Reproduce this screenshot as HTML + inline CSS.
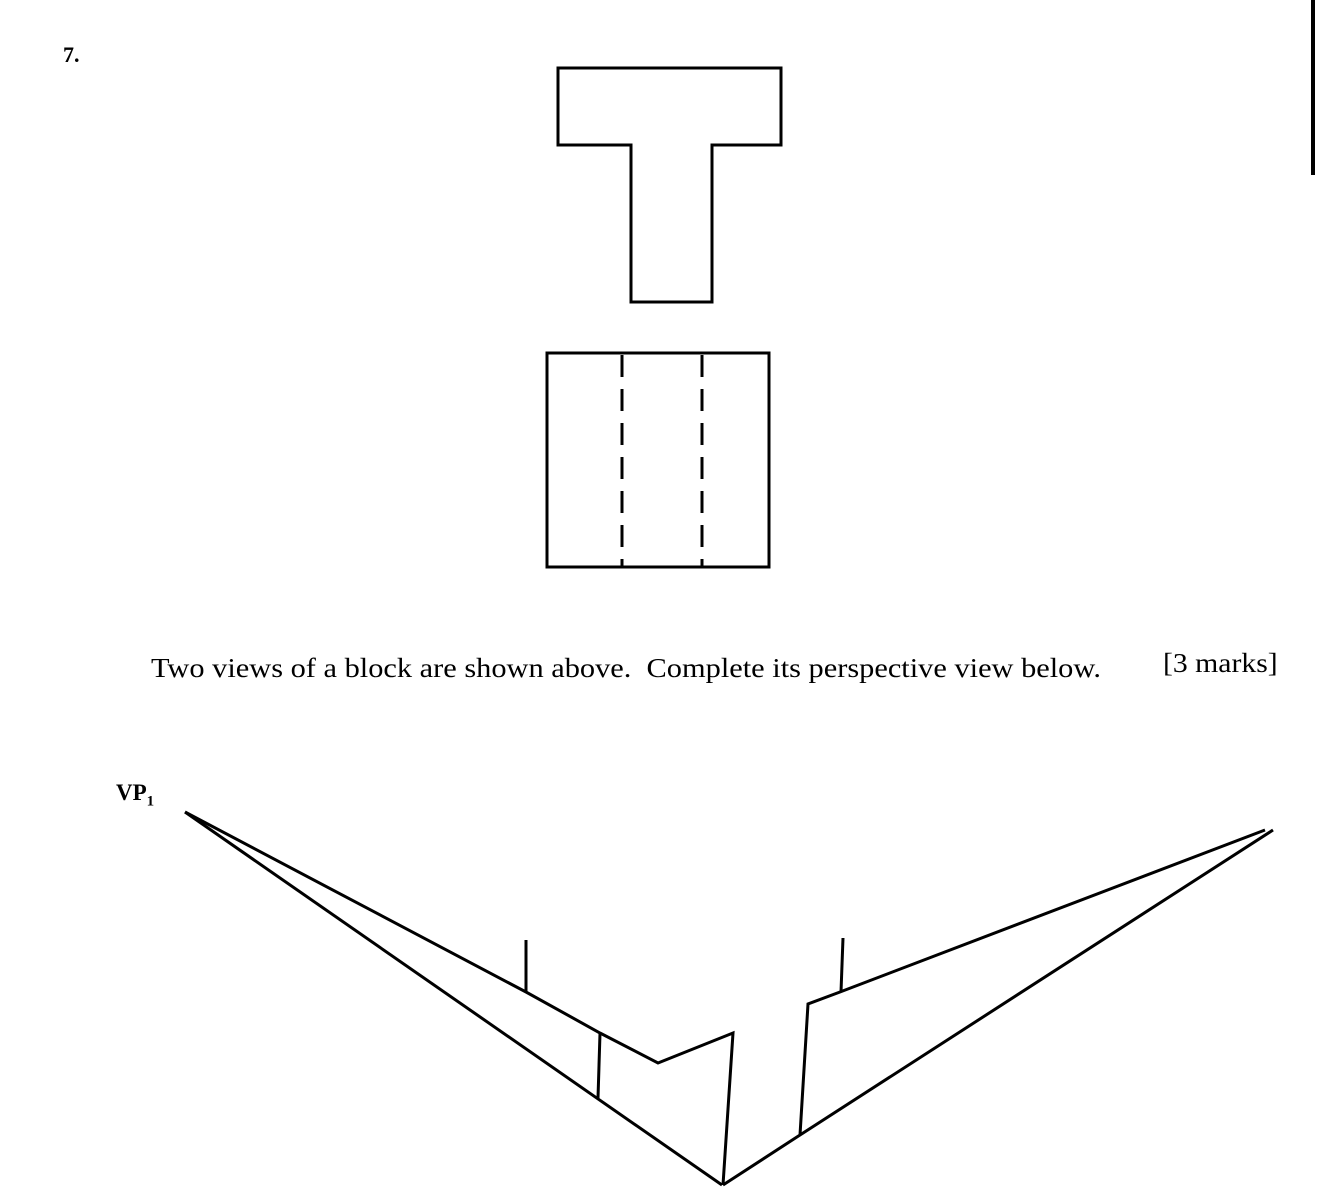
<!DOCTYPE html>
<html><head><style>
body{margin:0;background:#fff;width:1317px;height:1198px;overflow:hidden;position:relative;font-family:"Liberation Serif",serif;}
.t{position:absolute;color:#000;white-space:nowrap;transform-origin:0 0;}
</style></head><body>
<div class="t" style="left:63px;top:42px;font-size:22px;font-weight:bold;">7.</div>
<div class="t" style="left:151px;top:653px;font-size:27px;transform:scaleX(1.125);">Two views of a block are shown above.&nbsp; Complete its perspective view below.</div>
<div class="t" style="left:1163px;top:648px;font-size:27px;transform:scaleX(1.1);">[3 marks]</div>
<div class="t" style="left:116px;top:780px;font-size:23px;font-weight:bold;">VP<sub style="font-size:15px">1</sub></div>
<svg width="1317" height="1198" style="position:absolute;left:0;top:0" fill="none" stroke="#000" stroke-width="3">
<path d="M558 68H781V145H712V302H631V145H558Z"/>
<rect x="547" y="353" width="222" height="214"/>
<line x1="622" y1="355" x2="622" y2="567" stroke-dasharray="22,12"/>
<line x1="702" y1="355" x2="702" y2="567" stroke-dasharray="22,12"/>
<line x1="1313" y1="0" x2="1313" y2="175" stroke-width="4"/>
<polyline points="185,812 722,1185"/>
<polyline points="185,812 526,992 600,1033 658,1063 733,1033 723,1185"/>
<line x1="526" y1="940" x2="526" y2="992"/>
<line x1="600" y1="1033" x2="598" y2="1098"/>
<polyline points="723,1185 800,1135 1273,830"/>
<polyline points="800,1135 808,1004 840,992 1265,830"/>
<line x1="843" y1="938" x2="841" y2="992"/>
</svg>
</body></html>
